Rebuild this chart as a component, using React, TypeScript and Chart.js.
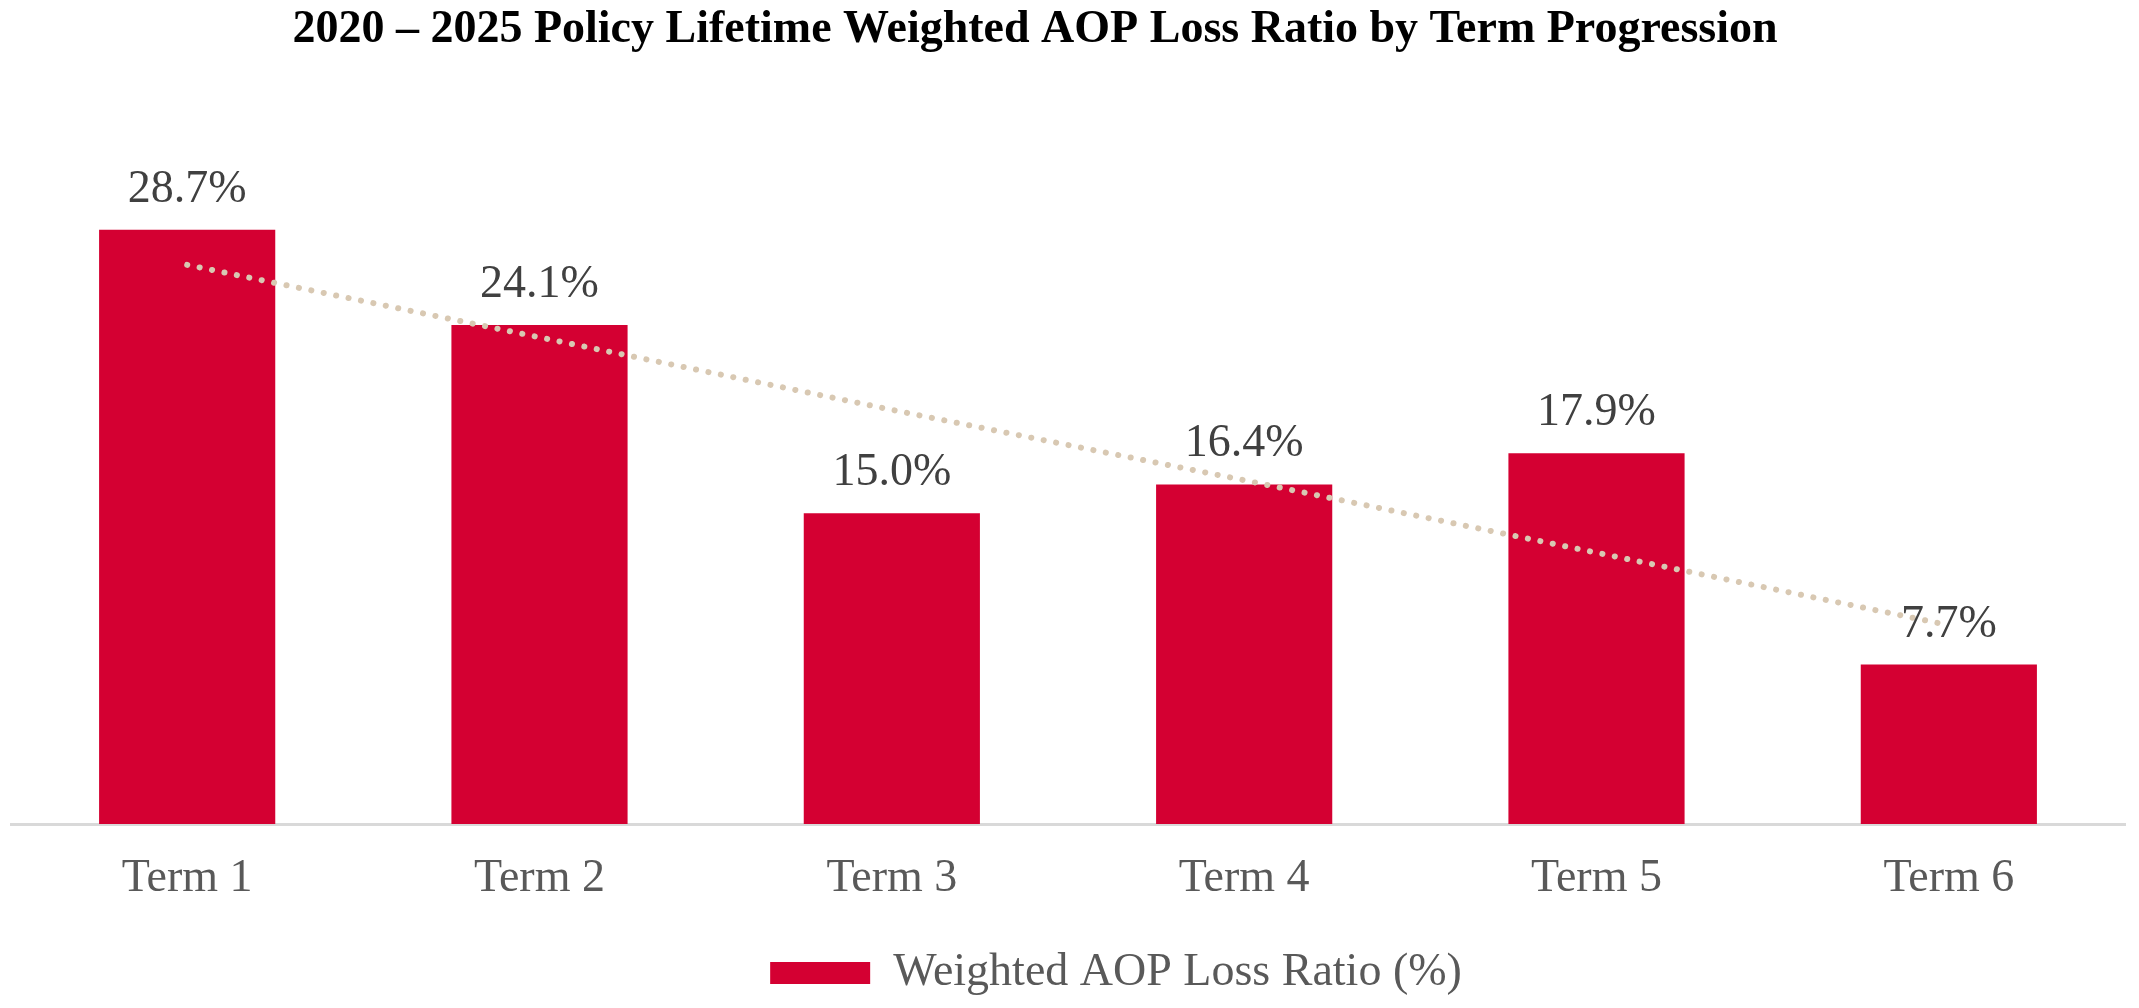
import React, { useEffect, useRef } from 'react';
import { Chart, registerables } from 'chart.js';

Chart.register(...registerables);

const TITLE = '2020 – 2025 Policy Lifetime Weighted AOP Loss Ratio by Term Progression';
const categories = ['Term 1', 'Term 2', 'Term 3', 'Term 4', 'Term 5', 'Term 6'];
const lossRatio = [28.7, 24.1, 15.0, 16.4, 17.9, 7.7];
const trendLine = [27.0, 23.5, 20.0, 16.6, 13.1, 9.6];
const seriesLabel = 'Weighted AOP Loss Ratio (%)';
const yMax = 35;

const FONT = "'Liberation Serif', 'Times New Roman', Times, serif";
const BAR_COLOR = '#D40032';
const TREND_COLOR = '#D8C8B2';

const dataLabels = {
  id: 'dataLabels',
  afterDatasetsDraw(chart: any) {
    const meta = chart.getDatasetMeta(0);
    const ctx = chart.ctx;
    ctx.save();
    ctx.font = `46px ${FONT}`;
    ctx.fillStyle = '#404040';
    ctx.textAlign = 'center';
    ctx.textBaseline = 'alphabetic';
    meta.data.forEach((el: any, i: number) => {
      ctx.fillText(lossRatio[i].toFixed(1) + '%', el.x, el.y - 28);
    });
    ctx.restore();
  },
};

const boxNudge = {
  id: 'boxNudge',
  afterLayout(chart: any) {
    const t = chart.titleBlock;
    if (t) {
      t.left -= 33;
      t.right -= 33;
    }
    const l = chart.legend;
    if (l) {
      l.left += 48;
      l.right += 48;
    }
  },
};

export default function App() {
  const canvasRef = useRef<HTMLCanvasElement | null>(null);

  useEffect(() => {
    if (!canvasRef.current) return;
    Chart.defaults.font.family = FONT;
    const chart = new Chart(canvasRef.current, {
      type: 'bar',
      data: {
        labels: categories,
        datasets: [
          {
            type: 'bar',
            label: seriesLabel,
            data: lossRatio,
            backgroundColor: BAR_COLOR,
            borderWidth: 0,
            categoryPercentage: 1,
            barPercentage: 0.5,
            order: 2,
          },
          {
            type: 'line',
            label: 'Trend',
            data: trendLine,
            borderColor: TREND_COLOR,
            borderWidth: 6,
            borderDash: [0.1, 12.57],
            borderCapStyle: 'round',
            pointRadius: 0,
            fill: false,
            tension: 0,
            order: 1,
          } as any,
        ],
      },
      options: {
        animation: false,
        responsive: true,
        maintainAspectRatio: false,
        layout: { padding: { left: 11, right: 14, top: 0, bottom: 2 } },
        scales: {
          x: {
            grid: { display: false, drawTicks: false },
            border: { display: true, color: '#D9D9D9', width: 3 },
            ticks: {
              color: '#595959',
              font: { size: 46, family: FONT },
              padding: 27,
            },
            afterFit: (scale: any) => {
              scale.height = 114;
            },
          },
          y: {
            display: false,
            min: 0,
            max: yMax,
          },
        },
        plugins: {
          title: {
            display: true,
            text: TITLE,
            color: '#000000',
            font: { size: 46, weight: 'bold', family: FONT },
            padding: { top: 3, bottom: 41 },
          },
          legend: {
            display: true,
            position: 'bottom',
            labels: {
              boxWidth: 100,
              boxHeight: 22,
              padding: 12,
              color: '#595959',
              font: { size: 46, family: FONT },
              filter: (item: any) => item.datasetIndex === 0,
            },
          },
          tooltip: { enabled: false },
        },
      },
      plugins: [dataLabels, boxNudge],
    } as any);
    return () => chart.destroy();
  }, []);

  return (
    <div style={{ position: 'fixed', left: 0, top: 0, width: 2139, height: 1008, background: '#ffffff' }}>
      <canvas ref={canvasRef} />
    </div>
  );
}
